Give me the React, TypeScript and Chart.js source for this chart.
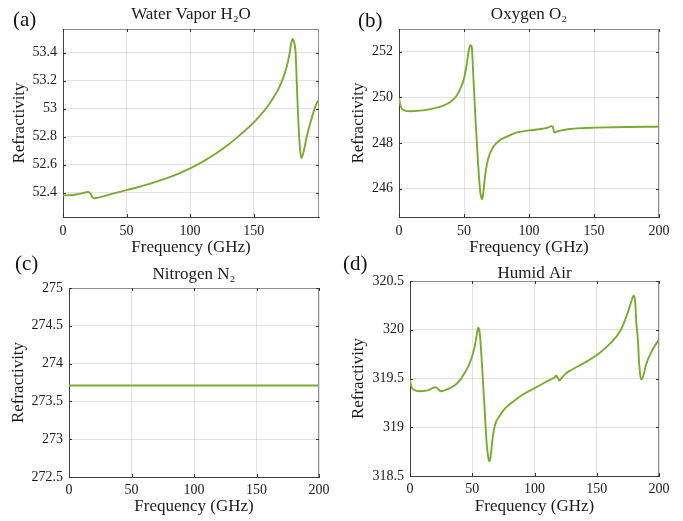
import React, { useEffect, useRef } from 'react';
import { Chart, registerables } from 'chart.js';

Chart.register(...registerables);

// ---------- data ----------
const freqA = [0, 5, 10, 15, 18, 20, 21.5, 23, 24.5, 26, 30, 40, 50, 60, 70, 80, 90, 100, 110, 120, 130, 140, 150, 155, 160, 165, 170, 173, 176, 178, 179.4, 180.7, 182, 183, 183.9, 184.9, 185.7, 186.6, 187.5, 188.5, 190, 192, 195.6, 199.6, 201.4];
const refA = [52.38, 52.382, 52.387, 52.395, 52.403, 52.405, 52.395, 52.37, 52.36, 52.362, 52.37, 52.395, 52.418, 52.442, 52.468, 52.498, 52.533, 52.574, 52.622, 52.678, 52.742, 52.818, 52.9, 52.95, 53.005, 53.07, 53.15, 53.215, 53.3, 53.38, 53.46, 53.498, 53.467, 53.4, 53.19, 52.955, 52.81, 52.7, 52.648, 52.665, 52.72, 52.81, 52.93, 53.04, 53.06];

const freqB = [0, 0.5, 1.3, 2.5, 4, 9, 20, 30, 35, 40, 44, 46.8, 50, 52, 53.7, 55, 55.8, 56.5, 57.1, 59.1, 60.9, 62.5, 63.3, 63.8, 64.6, 65.3, 66.1, 68.6, 72.5, 77.6, 80, 85, 90, 100, 110, 115, 117, 118.2, 119.5, 121, 124, 130, 140, 150, 175, 200];
const refB = [250.02, 249.8, 249.61, 249.48, 249.43, 249.39, 249.44, 249.56, 249.66, 249.82, 250.05, 250.33, 250.83, 251.42, 252.07, 252.29, 252.25, 251.8, 251.0, 248.78, 247.02, 245.85, 245.6, 245.53, 245.7, 246.05, 246.5, 247.3, 247.82, 248.12, 248.2, 248.33, 248.45, 248.55, 248.62, 248.68, 248.74, 248.72, 248.46, 248.49, 248.54, 248.6, 248.65, 248.67, 248.7, 248.71];

const freqC = [0, 50, 100, 150, 200];
const refC = [273.71, 273.71, 273.71, 273.71, 273.71];

const freqD = [0, 0.5, 1, 3, 8, 15, 20, 21.5, 23, 24.5, 27, 30, 36, 40, 44, 47, 49.5, 52, 53.5, 54.8, 55.6, 56.5, 57.5, 59.6, 61.5, 63, 63.8, 64.6, 65.3, 66, 68.2, 72.2, 76.2, 83.7, 90, 100, 110, 116, 117.5, 119, 120, 121.5, 125, 130, 140, 152, 160, 169, 175, 178, 179.6, 180.8, 181.8, 183.1, 183.9, 185, 186, 187, 189.8, 195, 200];
const refD = [319.5, 319.45, 319.42, 319.385, 319.37, 319.38, 319.41, 319.405, 319.385, 319.37, 319.375, 319.39, 319.43, 319.48, 319.56, 319.63, 319.71, 319.83, 319.94, 320.02, 320.0, 319.9, 319.71, 319.26, 318.85, 318.68, 318.65, 318.69, 318.76, 318.85, 319.02, 319.12, 319.19, 319.27, 319.33, 319.4, 319.47, 319.51, 319.53, 319.5, 319.48, 319.5, 319.55, 319.59, 319.66, 319.76, 319.85, 319.99, 320.18, 320.3, 320.35, 320.3, 320.07, 319.89, 319.68, 319.53, 319.49, 319.51, 319.65, 319.8, 319.9];

const xTicksA = [0, 50, 100, 150];
const xTicks = [0, 50, 100, 150, 200];
const yTicksA = [52.4, 52.6, 52.8, 53, 53.2, 53.4];
const yTicksB = [246, 248, 250, 252];
const yTicksC = [272.5, 273, 273.5, 274, 274.5, 275];
const yTicksD = [318.5, 319, 319.5, 320, 320.5];

const titles = ['Water Vapor H\u2082O', 'Oxygen O\u2082', 'Nitrogen N\u2082', 'Humid Air'];
const panelLabels = ['(a)', '(b)', '(c)', '(d)'];
const xTitle = 'Frequency (GHz)';
const yTitle = 'Refractivity';

// ---------- styling / layout ----------
const FONT = "'Liberation Serif', 'DejaVu Serif', serif";
const LINE = '#77AC30';
const TEXT = '#1a1a1a';

type PanelCfg = {
  freq: number[];
  ref: number[];
  xTicks: number[];
  yTicks: number[];
  xMax: number;
  yMin: number;
  yMax: number;
  title: string;
  left: number; top: number; w: number; h: number;
  yW: number; xH: number; padRight: number;
  tTop: number; tBottom: number; tLH: number;
  yTitlePad: number; xTitlePad: number; xTickPad: number;
};

const panels: PanelCfg[] = [
  { freq: freqA, ref: refA, xTicks: xTicksA, yTicks: yTicksA, xMax: 201.4, yMin: 52.226, yMax: 53.569, title: titles[0],
    left: 0, top: 0, w: 341, h: 260, yW: 63, xH: 43, padRight: 22, tTop: 6.5, tBottom: 5.5, tLH: 17, yTitlePad: 9, xTitlePad: 2, xTickPad: 6 },
  { freq: freqB, ref: refB, xTicks: xTicks, yTicks: yTicksB, xMax: 200, yMin: 244.75, yMax: 253, title: titles[1],
    left: 341, top: 0, w: 342, h: 260, yW: 58, xH: 43, padRight: 24, tTop: 6.5, tBottom: 5.5, tLH: 17, yTitlePad: 7.6, xTitlePad: 2, xTickPad: 6 },
  { freq: freqC, ref: refC, xTicks: xTicks, yTicks: yTicksC, xMax: 200, yMin: 272.5, yMax: 275, title: titles[2],
    left: 0, top: 260, w: 341, h: 261, yW: 69, xH: 44, padRight: 22, tTop: 6, tBottom: 5, tLH: 17, yTitlePad: 8.6, xTitlePad: 4, xTickPad: 5 },
  { freq: freqD, ref: refD, xTicks: xTicks, yTicks: yTicksD, xMax: 200, yMin: 318.5, yMax: 320.5, title: titles[3],
    left: 341, top: 260, w: 342, h: 261, yW: 69, xH: 45, padRight: 24, tTop: 6.5, tBottom: 0, tLH: 14.5, yTitlePad: 7.6, xTitlePad: 4, xTickPad: 5 },
];

const labelPos = [
  { left: 13, top: 9 },
  { left: 358, top: 10 },
  { left: 15, top: 253 },
  { left: 343, top: 253 },
];

const framePlugin = {
  id: 'matlabFrame',
  afterDatasetsDraw(chart: any) {
    const { ctx, chartArea: a, scales } = chart;
    ctx.save();
    ctx.lineWidth = 1;
    ctx.strokeStyle = '#8f8f8f';
    ctx.beginPath();
    ctx.moveTo(a.left, a.top + 0.5);
    ctx.lineTo(a.right, a.top + 0.5);
    ctx.moveTo(a.right - 0.5, a.top);
    ctx.lineTo(a.right - 0.5, a.bottom);
    ctx.stroke();
    ctx.strokeStyle = '#333';
    ctx.beginPath();
    const tl = 3;
    scales.x.ticks.forEach((t: any) => {
      const px = Math.round(scales.x.getPixelForValue(t.value)) + 0.5;
      ctx.moveTo(px, a.bottom);
      ctx.lineTo(px, a.bottom - tl);
      ctx.moveTo(px, a.top);
      ctx.lineTo(px, a.top + tl);
    });
    scales.y.ticks.forEach((t: any) => {
      const py = Math.round(scales.y.getPixelForValue(t.value)) + 0.5;
      ctx.moveTo(a.left, py);
      ctx.lineTo(a.left + tl, py);
      ctx.moveTo(a.right, py);
      ctx.lineTo(a.right - tl, py);
    });
    ctx.stroke();
    ctx.restore();
  },
};

function Panel({ cfg }: { cfg: PanelCfg }) {
  const ref = useRef<HTMLCanvasElement>(null);
  useEffect(() => {
    const data = cfg.freq.map((f, i) => ({ x: f, y: cfg.ref[i] }));
    const chart = new Chart(ref.current as HTMLCanvasElement, {
      type: 'line',
      data: {
        datasets: [
          {
            data,
            borderColor: LINE,
            borderWidth: 1.9,
            pointRadius: 0,
            fill: false,
            cubicInterpolationMode: 'monotone',
          } as any,
        ],
      },
      plugins: [framePlugin],
      options: {
        responsive: false,
        animation: false,
        events: [],
        layout: { padding: { left: 0, top: 0, right: cfg.padRight, bottom: 0 } },
        plugins: {
          legend: { display: false },
          tooltip: { enabled: false },
          title: {
            display: true,
            text: cfg.title,
            fullSize: false,
            color: TEXT,
            font: { family: FONT, size: 17, weight: 'normal', lineHeight: cfg.tLH + 'px' },
            padding: { top: cfg.tTop, bottom: cfg.tBottom },
          } as any,
        },
        scales: {
          x: {
            type: 'linear',
            min: 0,
            max: cfg.xMax,
            afterBuildTicks: (s: any) => {
              s.ticks = cfg.xTicks.map((v) => ({ value: v }));
            },
            afterFit: (s: any) => {
              s.height = cfg.xH;
            },
            ticks: {
              autoSkip: false,
              maxRotation: 0,
              padding: cfg.xTickPad,
              color: TEXT,
              font: { family: FONT, size: 14 },
              callback: (v: any) => String(v),
            },
            grid: { color: 'rgba(0,0,0,0.11)', drawTicks: false, lineWidth: 1 },
            border: { color: '#404040', width: 1 },
            title: {
              display: true,
              text: xTitle,
              color: TEXT,
              font: { family: FONT, size: 17, lineHeight: 1.2 },
              padding: { top: 0, bottom: cfg.xTitlePad },
            },
          },
          y: {
            type: 'linear',
            min: cfg.yMin,
            max: cfg.yMax,
            afterBuildTicks: (s: any) => {
              s.ticks = cfg.yTicks.map((v) => ({ value: v }));
            },
            afterFit: (s: any) => {
              s.width = cfg.yW;
            },
            ticks: {
              autoSkip: false,
              padding: 6,
              color: TEXT,
              font: { family: FONT, size: 14 },
              callback: (v: any) => String(v),
            },
            grid: { color: 'rgba(0,0,0,0.11)', drawTicks: false, lineWidth: 1 },
            border: { color: '#404040', width: 1 },
            title: {
              display: true,
              text: yTitle,
              color: TEXT,
              font: { family: FONT, size: 17, lineHeight: 1.2 },
              padding: { top: cfg.yTitlePad, bottom: 0 },
            },
          },
        },
      } as any,
    });
    return () => chart.destroy();
  }, [cfg]);
  return (
    <canvas
      ref={ref}
      width={cfg.w}
      height={cfg.h}
      style={{ position: 'absolute', left: cfg.left, top: cfg.top, width: cfg.w, height: cfg.h }}
    />
  );
}

export default function App() {
  return (
    <div style={{ position: 'absolute', left: 0, top: 0, width: 683, height: 521, background: '#fff', overflow: 'hidden' }}>
      {panels.map((p, i) => (
        <Panel key={i} cfg={p} />
      ))}
      {panelLabels.map((t, i) => (
        <div
          key={'l' + i}
          style={{
            position: 'absolute',
            left: labelPos[i].left,
            top: labelPos[i].top,
            fontFamily: FONT,
            fontSize: 21,
            lineHeight: '21px',
            color: '#111',
          }}
        >
          {t}
        </div>
      ))}
    </div>
  );
}
